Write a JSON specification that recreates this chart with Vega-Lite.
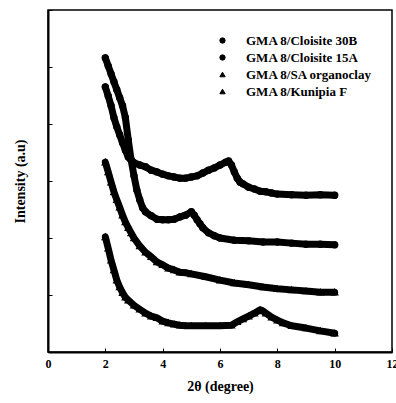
{
  "$schema": "https://vega.github.io/schema/vega-lite/v6.json",
  "width": 344,
  "height": 342,
  "autosize": {"type": "none"},
  "padding": {"left": 48, "top": 10, "right": 4, "bottom": 51},
  "background": "white",
  "config": {
    "view": {"stroke": "black", "strokeWidth": 1.5},
    "font": "Liberation Serif",
    "axis": {"grid": false, "domainColor": "black", "domainWidth": 2, "tickColor": "black", "labelColor": "black", "titleColor": "black", "labelFont": "Liberation Serif", "titleFont": "Liberation Serif", "labelFontWeight": "bold", "titleFontWeight": "bold"},
    "legend": {"labelFont": "Liberation Serif", "labelFontWeight": "bold", "labelColor": "black"}
  },
  "datasets": {
    "xrd": [
      {"s": "GMA 8/Cloisite 30B", "x": 2.0, "y": 4.65},
      {"s": "GMA 8/Cloisite 30B", "x": 2.1, "y": 4.49},
      {"s": "GMA 8/Cloisite 30B", "x": 2.2, "y": 4.32},
      {"s": "GMA 8/Cloisite 30B", "x": 2.3, "y": 4.11},
      {"s": "GMA 8/Cloisite 30B", "x": 2.4, "y": 3.95},
      {"s": "GMA 8/Cloisite 30B", "x": 2.5, "y": 3.81},
      {"s": "GMA 8/Cloisite 30B", "x": 2.6, "y": 3.67},
      {"s": "GMA 8/Cloisite 30B", "x": 2.7, "y": 3.54},
      {"s": "GMA 8/Cloisite 30B", "x": 2.8, "y": 3.42},
      {"s": "GMA 8/Cloisite 30B", "x": 2.9, "y": 3.37},
      {"s": "GMA 8/Cloisite 30B", "x": 3.0, "y": 3.32},
      {"s": "GMA 8/Cloisite 30B", "x": 3.2, "y": 3.28},
      {"s": "GMA 8/Cloisite 30B", "x": 3.4, "y": 3.25},
      {"s": "GMA 8/Cloisite 30B", "x": 3.6, "y": 3.19},
      {"s": "GMA 8/Cloisite 30B", "x": 3.8, "y": 3.16},
      {"s": "GMA 8/Cloisite 30B", "x": 4.0, "y": 3.12},
      {"s": "GMA 8/Cloisite 30B", "x": 4.2, "y": 3.09},
      {"s": "GMA 8/Cloisite 30B", "x": 4.4, "y": 3.07},
      {"s": "GMA 8/Cloisite 30B", "x": 4.6, "y": 3.05},
      {"s": "GMA 8/Cloisite 30B", "x": 4.8, "y": 3.05},
      {"s": "GMA 8/Cloisite 30B", "x": 5.0, "y": 3.07},
      {"s": "GMA 8/Cloisite 30B", "x": 5.2, "y": 3.09},
      {"s": "GMA 8/Cloisite 30B", "x": 5.4, "y": 3.14},
      {"s": "GMA 8/Cloisite 30B", "x": 5.6, "y": 3.19},
      {"s": "GMA 8/Cloisite 30B", "x": 5.8, "y": 3.23},
      {"s": "GMA 8/Cloisite 30B", "x": 6.0, "y": 3.28},
      {"s": "GMA 8/Cloisite 30B", "x": 6.2, "y": 3.33},
      {"s": "GMA 8/Cloisite 30B", "x": 6.3, "y": 3.35},
      {"s": "GMA 8/Cloisite 30B", "x": 6.4, "y": 3.28},
      {"s": "GMA 8/Cloisite 30B", "x": 6.5, "y": 3.16},
      {"s": "GMA 8/Cloisite 30B", "x": 6.6, "y": 3.05},
      {"s": "GMA 8/Cloisite 30B", "x": 6.7, "y": 2.98},
      {"s": "GMA 8/Cloisite 30B", "x": 6.8, "y": 2.95},
      {"s": "GMA 8/Cloisite 30B", "x": 7.0, "y": 2.89},
      {"s": "GMA 8/Cloisite 30B", "x": 7.2, "y": 2.86},
      {"s": "GMA 8/Cloisite 30B", "x": 7.4, "y": 2.82},
      {"s": "GMA 8/Cloisite 30B", "x": 7.6, "y": 2.81},
      {"s": "GMA 8/Cloisite 30B", "x": 7.8, "y": 2.79},
      {"s": "GMA 8/Cloisite 30B", "x": 8.0, "y": 2.77},
      {"s": "GMA 8/Cloisite 30B", "x": 8.5, "y": 2.76},
      {"s": "GMA 8/Cloisite 30B", "x": 9.0, "y": 2.75},
      {"s": "GMA 8/Cloisite 30B", "x": 9.5, "y": 2.76},
      {"s": "GMA 8/Cloisite 30B", "x": 10.0, "y": 2.75},
      {"s": "GMA 8/Cloisite 15A", "x": 2.0, "y": 5.16},
      {"s": "GMA 8/Cloisite 15A", "x": 2.1, "y": 5.02},
      {"s": "GMA 8/Cloisite 15A", "x": 2.2, "y": 4.88},
      {"s": "GMA 8/Cloisite 15A", "x": 2.3, "y": 4.74},
      {"s": "GMA 8/Cloisite 15A", "x": 2.4, "y": 4.6},
      {"s": "GMA 8/Cloisite 15A", "x": 2.5, "y": 4.46},
      {"s": "GMA 8/Cloisite 15A", "x": 2.6, "y": 4.32},
      {"s": "GMA 8/Cloisite 15A", "x": 2.7, "y": 4.11},
      {"s": "GMA 8/Cloisite 15A", "x": 2.8, "y": 3.72},
      {"s": "GMA 8/Cloisite 15A", "x": 2.9, "y": 3.37},
      {"s": "GMA 8/Cloisite 15A", "x": 3.0, "y": 3.09},
      {"s": "GMA 8/Cloisite 15A", "x": 3.1, "y": 2.84},
      {"s": "GMA 8/Cloisite 15A", "x": 3.2, "y": 2.67},
      {"s": "GMA 8/Cloisite 15A", "x": 3.3, "y": 2.53},
      {"s": "GMA 8/Cloisite 15A", "x": 3.4, "y": 2.46},
      {"s": "GMA 8/Cloisite 15A", "x": 3.6, "y": 2.39},
      {"s": "GMA 8/Cloisite 15A", "x": 3.8, "y": 2.33},
      {"s": "GMA 8/Cloisite 15A", "x": 4.0, "y": 2.32},
      {"s": "GMA 8/Cloisite 15A", "x": 4.2, "y": 2.32},
      {"s": "GMA 8/Cloisite 15A", "x": 4.4, "y": 2.33},
      {"s": "GMA 8/Cloisite 15A", "x": 4.6, "y": 2.37},
      {"s": "GMA 8/Cloisite 15A", "x": 4.8, "y": 2.4},
      {"s": "GMA 8/Cloisite 15A", "x": 5.0, "y": 2.46},
      {"s": "GMA 8/Cloisite 15A", "x": 5.1, "y": 2.4},
      {"s": "GMA 8/Cloisite 15A", "x": 5.2, "y": 2.32},
      {"s": "GMA 8/Cloisite 15A", "x": 5.3, "y": 2.25},
      {"s": "GMA 8/Cloisite 15A", "x": 5.4, "y": 2.18},
      {"s": "GMA 8/Cloisite 15A", "x": 5.6, "y": 2.09},
      {"s": "GMA 8/Cloisite 15A", "x": 5.8, "y": 2.04},
      {"s": "GMA 8/Cloisite 15A", "x": 6.0, "y": 2.0},
      {"s": "GMA 8/Cloisite 15A", "x": 6.5, "y": 1.96},
      {"s": "GMA 8/Cloisite 15A", "x": 7.0, "y": 1.95},
      {"s": "GMA 8/Cloisite 15A", "x": 7.5, "y": 1.93},
      {"s": "GMA 8/Cloisite 15A", "x": 8.0, "y": 1.93},
      {"s": "GMA 8/Cloisite 15A", "x": 8.5, "y": 1.91},
      {"s": "GMA 8/Cloisite 15A", "x": 9.0, "y": 1.89},
      {"s": "GMA 8/Cloisite 15A", "x": 9.5, "y": 1.89},
      {"s": "GMA 8/Cloisite 15A", "x": 10.0, "y": 1.88},
      {"s": "GMA 8/SA organoclay", "x": 2.0, "y": 3.33},
      {"s": "GMA 8/SA organoclay", "x": 2.1, "y": 3.16},
      {"s": "GMA 8/SA organoclay", "x": 2.2, "y": 2.98},
      {"s": "GMA 8/SA organoclay", "x": 2.3, "y": 2.81},
      {"s": "GMA 8/SA organoclay", "x": 2.4, "y": 2.67},
      {"s": "GMA 8/SA organoclay", "x": 2.5, "y": 2.54},
      {"s": "GMA 8/SA organoclay", "x": 2.6, "y": 2.4},
      {"s": "GMA 8/SA organoclay", "x": 2.7, "y": 2.28},
      {"s": "GMA 8/SA organoclay", "x": 2.8, "y": 2.18},
      {"s": "GMA 8/SA organoclay", "x": 2.9, "y": 2.09},
      {"s": "GMA 8/SA organoclay", "x": 3.0, "y": 2.0},
      {"s": "GMA 8/SA organoclay", "x": 3.2, "y": 1.86},
      {"s": "GMA 8/SA organoclay", "x": 3.4, "y": 1.75},
      {"s": "GMA 8/SA organoclay", "x": 3.6, "y": 1.67},
      {"s": "GMA 8/SA organoclay", "x": 3.8, "y": 1.58},
      {"s": "GMA 8/SA organoclay", "x": 4.0, "y": 1.53},
      {"s": "GMA 8/SA organoclay", "x": 4.2, "y": 1.47},
      {"s": "GMA 8/SA organoclay", "x": 4.4, "y": 1.44},
      {"s": "GMA 8/SA organoclay", "x": 4.6, "y": 1.4},
      {"s": "GMA 8/SA organoclay", "x": 4.8, "y": 1.39},
      {"s": "GMA 8/SA organoclay", "x": 5.0, "y": 1.37},
      {"s": "GMA 8/SA organoclay", "x": 5.5, "y": 1.32},
      {"s": "GMA 8/SA organoclay", "x": 6.0, "y": 1.26},
      {"s": "GMA 8/SA organoclay", "x": 6.5, "y": 1.21},
      {"s": "GMA 8/SA organoclay", "x": 7.0, "y": 1.18},
      {"s": "GMA 8/SA organoclay", "x": 7.5, "y": 1.14},
      {"s": "GMA 8/SA organoclay", "x": 8.0, "y": 1.11},
      {"s": "GMA 8/SA organoclay", "x": 8.5, "y": 1.09},
      {"s": "GMA 8/SA organoclay", "x": 9.0, "y": 1.07},
      {"s": "GMA 8/SA organoclay", "x": 9.5, "y": 1.05},
      {"s": "GMA 8/SA organoclay", "x": 10.0, "y": 1.05},
      {"s": "GMA 8/Kunipia F", "x": 2.0, "y": 2.02},
      {"s": "GMA 8/Kunipia F", "x": 2.1, "y": 1.82},
      {"s": "GMA 8/Kunipia F", "x": 2.2, "y": 1.61},
      {"s": "GMA 8/Kunipia F", "x": 2.3, "y": 1.44},
      {"s": "GMA 8/Kunipia F", "x": 2.4, "y": 1.26},
      {"s": "GMA 8/Kunipia F", "x": 2.5, "y": 1.14},
      {"s": "GMA 8/Kunipia F", "x": 2.6, "y": 1.04},
      {"s": "GMA 8/Kunipia F", "x": 2.7, "y": 0.96},
      {"s": "GMA 8/Kunipia F", "x": 2.8, "y": 0.91},
      {"s": "GMA 8/Kunipia F", "x": 3.0, "y": 0.82},
      {"s": "GMA 8/Kunipia F", "x": 3.2, "y": 0.75},
      {"s": "GMA 8/Kunipia F", "x": 3.4, "y": 0.68},
      {"s": "GMA 8/Kunipia F", "x": 3.6, "y": 0.63},
      {"s": "GMA 8/Kunipia F", "x": 3.8, "y": 0.6},
      {"s": "GMA 8/Kunipia F", "x": 4.0, "y": 0.54},
      {"s": "GMA 8/Kunipia F", "x": 4.2, "y": 0.51},
      {"s": "GMA 8/Kunipia F", "x": 4.4, "y": 0.49},
      {"s": "GMA 8/Kunipia F", "x": 4.6, "y": 0.47},
      {"s": "GMA 8/Kunipia F", "x": 4.8, "y": 0.46},
      {"s": "GMA 8/Kunipia F", "x": 5.0, "y": 0.46},
      {"s": "GMA 8/Kunipia F", "x": 5.5, "y": 0.46},
      {"s": "GMA 8/Kunipia F", "x": 6.0, "y": 0.46},
      {"s": "GMA 8/Kunipia F", "x": 6.4, "y": 0.47},
      {"s": "GMA 8/Kunipia F", "x": 6.6, "y": 0.53},
      {"s": "GMA 8/Kunipia F", "x": 6.8, "y": 0.58},
      {"s": "GMA 8/Kunipia F", "x": 7.0, "y": 0.63},
      {"s": "GMA 8/Kunipia F", "x": 7.2, "y": 0.68},
      {"s": "GMA 8/Kunipia F", "x": 7.4, "y": 0.74},
      {"s": "GMA 8/Kunipia F", "x": 7.5, "y": 0.72},
      {"s": "GMA 8/Kunipia F", "x": 7.6, "y": 0.68},
      {"s": "GMA 8/Kunipia F", "x": 7.8, "y": 0.61},
      {"s": "GMA 8/Kunipia F", "x": 8.0, "y": 0.56},
      {"s": "GMA 8/Kunipia F", "x": 8.2, "y": 0.51},
      {"s": "GMA 8/Kunipia F", "x": 8.5, "y": 0.46},
      {"s": "GMA 8/Kunipia F", "x": 9.0, "y": 0.42},
      {"s": "GMA 8/Kunipia F", "x": 9.5, "y": 0.37},
      {"s": "GMA 8/Kunipia F", "x": 10.0, "y": 0.33}
    ]
  },
  "data": {"name": "xrd"},
  "encoding": {
    "x": {
      "field": "x", "type": "quantitative",
      "scale": {"domain": [0, 12], "nice": false},
      "axis": {"title": "2θ (degree)", "values": [0, 2, 4, 6, 8, 10, 12], "format": "d", "tickSize": -4, "tickWidth": 1, "labelPadding": 10, "labelFontSize": 12, "titleFontSize": 14, "titlePadding": 10, "labelFlush": false}
    },
    "y": {
      "field": "y", "type": "quantitative",
      "scale": {"domain": [0, 6], "nice": false},
      "axis": {"title": "Intensity (a.u)", "values": [0, 1, 2, 3, 4, 5, 6], "labels": false, "tickSize": -4, "tickWidth": 1, "titleFontSize": 14, "titlePadding": 20}
    }
  },
  "layer": [
    {
      "mark": {"type": "line", "color": "black", "strokeWidth": 7, "interpolate": "linear", "strokeJoin": "round", "strokeCap": "round"},
      "encoding": {"detail": {"field": "s", "type": "nominal"}}
    },
    {
      "mark": {"type": "point", "stroke": "black", "strokeWidth": 1.5, "opacity": 1, "size": 35},
      "encoding": {
        "shape": {
          "field": "s", "type": "nominal",
          "scale": {"domain": ["GMA 8/Cloisite 30B", "GMA 8/Cloisite 15A", "GMA 8/SA organoclay", "GMA 8/Kunipia F"], "range": ["circle", "circle", "triangle-up", "triangle-up"]},
          "legend": {"title": null, "orient": "none", "legendX": 168, "legendY": 24, "symbolSize": 28, "symbolStrokeWidth": 1, "labelFontSize": 13, "labelOffset": 17, "rowPadding": 3, "padding": 0}
        },
        "fill": {
          "field": "s", "type": "nominal",
          "scale": {"domain": ["GMA 8/Cloisite 30B", "GMA 8/Cloisite 15A", "GMA 8/SA organoclay", "GMA 8/Kunipia F"], "range": ["black", "black", "black", "black"]},
          "legend": {"title": null, "orient": "none", "legendX": 168, "legendY": 24, "symbolSize": 28, "symbolStrokeWidth": 1, "labelFontSize": 13, "labelOffset": 17, "rowPadding": 3, "padding": 0}
        }
      }
    }
  ]
}
